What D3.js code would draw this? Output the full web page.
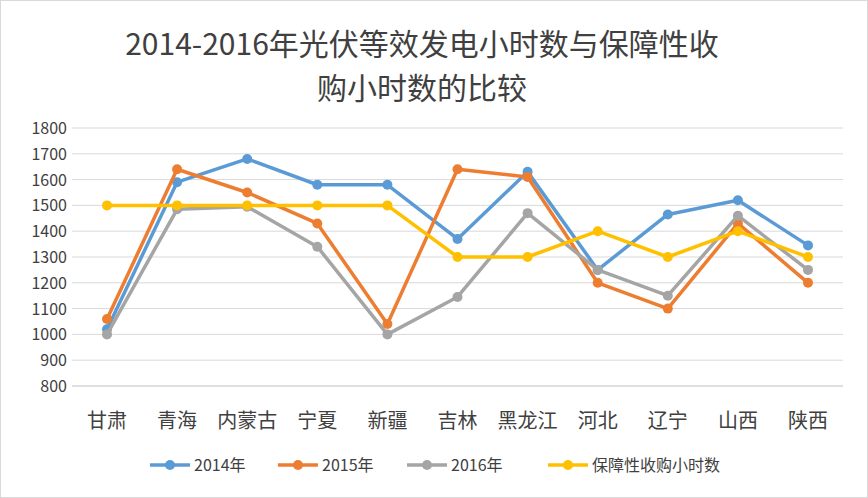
<!DOCTYPE html>
<html><head><meta charset="utf-8">
<script src="https://cdn.jsdelivr.net/npm/d3@7"></script>
<style>body{margin:0;background:#fff}text{font-family:"Noto Sans CJK SC","DejaVu Sans",sans-serif}</style>
</head><body><svg width="868" height="498"></svg>
<script>
const categories = ["甘肃","青海","内蒙古","宁夏","新疆","吉林","黑龙江","河北","辽宁","山西","陕西"];
const s2014 = [1020,1590,1680,1580,1580,1370,1630,1250,1465,1520,1345];
const s2015 = [1060,1640,1550,1430,1040,1640,1610,1200,1100,1430,1200];
const s2016 = [1000,1485,1495,1340,1000,1145,1470,1250,1150,1460,1250];
const guarantee = [1500,1500,1500,1500,1500,1300,1300,1400,1300,1400,1300];
const yTicks = [800,900,1000,1100,1200,1300,1400,1500,1600,1700,1800];
const series = [
  {name:"2014年", values:s2014, color:"#5b9bd5"},
  {name:"2015年", values:s2015, color:"#ed7d31"},
  {name:"2016年", values:s2016, color:"#a5a5a5"},
  {name:"保障性收购小时数", values:guarantee, color:"#ffc000"}
];
const svg = d3.select("svg");
svg.append("rect").attr("x",0.5).attr("y",0.5).attr("width",867).attr("height",497).attr("fill","none").attr("stroke","#d9d9d9");
const x = d3.scalePoint().domain(categories).range([107,808]);
const y = d3.scaleLinear().domain([800,1800]).range([386,128]);
svg.append("g").selectAll("line").data(yTicks).join("line")
  .attr("x1",72).attr("x2",843).attr("y1",d=>y(d)).attr("y2",d=>y(d))
  .attr("stroke",d=>d===800?"#bfbfbf":"#d9d9d9");
svg.append("g").selectAll("text").data(yTicks).join("text")
  .attr("x",67).attr("y",d=>y(d)+6).attr("text-anchor","end").attr("font-size",16).attr("fill","#404040").text(d=>d);
svg.append("g").selectAll("text").data(categories).join("text")
  .attr("x",d=>x(d)).attr("y",428).attr("text-anchor","middle").attr("font-size",20).attr("fill","#404040").text(d=>d);
const title = ["2014-2016年光伏等效发电小时数与保障性收","购小时数的比较"];
svg.append("g").selectAll("text").data(title).join("text")
  .attr("x",422).attr("y",(d,i)=>55+i*44).attr("text-anchor","middle").attr("font-size",30).attr("fill","#404040").text(d=>d);
const line = d3.line().x((d,i)=>x(categories[i])).y(d=>y(d));
series.forEach(s=>{
  const g = svg.append("g");
  g.append("path").attr("d",line(s.values)).attr("fill","none").attr("stroke",s.color).attr("stroke-width",3.5).attr("stroke-linejoin","round");
  g.selectAll("circle").data(s.values).join("circle").attr("cx",(d,i)=>x(categories[i])).attr("cy",d=>y(d)).attr("r",5).attr("fill",s.color);
});
const lx = [150,278,407,548];
series.forEach((s,i)=>{
  const g = svg.append("g").attr("transform",`translate(${lx[i]},465)`);
  g.append("line").attr("x1",0).attr("x2",40).attr("stroke",s.color).attr("stroke-width",3.5);
  g.append("circle").attr("cx",20).attr("r",5).attr("fill",s.color);
  g.append("text").attr("x",44).attr("y",6).attr("font-size",16).attr("fill","#404040").text(s.name);
});
</script></body></html>
